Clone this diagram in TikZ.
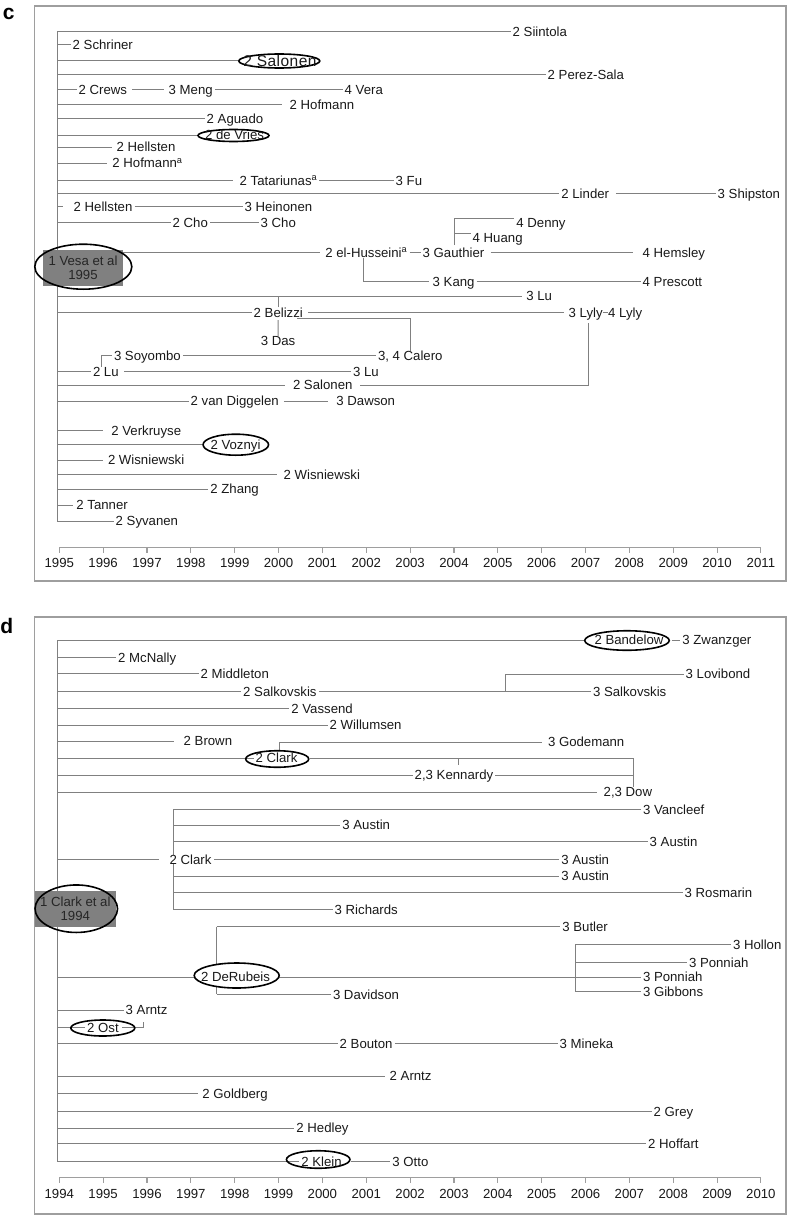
\documentclass[tikz,border=0pt]{standalone}
\usepackage{fontspec}
\setmainfont{Liberation Sans}
\usepackage{tikz}
\usetikzlibrary{shapes.geometric}
\pgfdeclarelayer{lines}
\pgfsetlayers{lines,main}
\definecolor{lnc}{gray}{0.5}
\definecolor{frm}{gray}{0.62}
\newcommand\lblfont{\fontsize{13.2}{14.5}\selectfont}
\tikzset{
  lbl/.style={anchor=west, inner xsep=2pt, inner ysep=0pt, text height=9.4pt, text depth=0pt, font=\lblfont, text=black!90},
  tl/.style={draw=lnc, line width=1pt},
  ring/.style={ellipse, draw=black, line width=1.6pt, inner sep=0pt},
  root/.style={fill=gray, inner sep=0pt, align=center, font=\lblfont, text=black!85},
  frame/.style={draw=frm, line width=1.3pt},
  axl/.style={draw=frm, line width=1.1pt},
  yr/.style={font=\lblfont, inner sep=0pt, text=black!90},
  panel/.style={font=\bfseries\fontsize{21}{21}\selectfont, inner sep=0pt}
}
\begin{document}
\begin{tikzpicture}[x=1pt,y=-1pt]
\useasboundingbox (0,0) rectangle (788,1215);

% ---------------- panel c
\node[panel] (clab) at (8.7,14.2) {c};
\draw[frame] (34.3,6) rectangle (786,581);
\coordinate (cs) at (57,31.5);
\coordinate (ce) at (57,521);

\node[lbl] (siintola) at (510.5,31.5) {2 Siintola};
\node[lbl] (schriner) at (70.5,44.7) {2 Schriner};
\node[ring, fill=white, minimum width=81pt, minimum height=14pt] (salonenR) at (279.3,61) {};
\node[lbl, anchor=center, text height=10.5pt, font=\fontsize{15.5}{16}\selectfont\addfontfeatures{LetterSpace=3}] (salonenA) at (280,61) {2 Salonen};
\node[lbl] (perez) at (545.5,74.5) {2 Perez-Sala};
\node[lbl] (crews) at (76.5,89.3) {2 Crews};
\node[lbl] (meng) at (166.5,89.3) {3 Meng};
\node[lbl] (vera) at (342.5,89.3) {4 Vera};
\node[lbl] (hofmannA) at (287.5,104.3) {2 Hofmann};
\node[lbl] (aguado) at (204.5,118.5) {2 Aguado};
\node[ring, fill=white, minimum width=71pt, minimum height=12pt] (devriesR) at (233.5,135.5) {};
\node[lbl, anchor=center] (devries) at (234.5,134.7) {2 de Vries};
\node[lbl] (hellstenA) at (114.5,147) {2 Hellsten};
\node[lbl] (hofmannB) at (110.2,163) {2 Hofmann\textsuperscript{a}};
\node[lbl] (tatar) at (237.5,180.3) {2 Tatariunas\textsuperscript{a}};
\node[lbl] (fu) at (393.5,180.3) {3 Fu};
\node[lbl] (linder) at (559.2,193.3) {2 Linder};
\node[lbl] (shipston) at (715.5,193.3) {3 Shipston};
\node[lbl] (hellstenB) at (71.5,206.7) {2 Hellsten};
\node[lbl] (heinonen) at (242.5,206.7) {3 Heinonen};
\node[lbl] (choA) at (170.5,222.3) {2 Cho};
\node[lbl] (choB) at (258.5,222.3) {3 Cho};
\node[lbl] (denny) at (514.2,222.7) {4 Denny};
\node[lbl] (huang) at (470.5,237.7) {4 Huang};
\node[lbl] (husseini) at (323.2,252.3) {2 el-Husseini\textsuperscript{a}};
\node[lbl] (gauthier) at (420.5,252.3) {3 Gauthier};
\node[lbl] (hemsley) at (640.5,252.3) {4 Hemsley};
\node[lbl] (kang) at (430.5,281.7) {3 Kang};
\node[lbl] (prescott) at (640.5,281.7) {4 Prescott};
\node[lbl] (luA) at (524.2,296) {3 Lu};
\node[lbl] (belizzi) at (251.5,312.3) {2 Belizzi};
\node[lbl] (lylyA) at (566.5,312.3) {3 Lyly};
\node[lbl] (lylyB) at (606,312.3) {4 Lyly};
\node[lbl, anchor=center] (das) at (278,341) {3 Das};
\node[lbl] (soyombo) at (111.8,355.7) {3 Soyombo};
\node[lbl] (calero) at (375.8,355.7) {3, 4 Calero};
\node[lbl] (luB) at (90.8,371.7) {2 Lu};
\node[lbl] (luC) at (350.8,371.7) {3 Lu};
\node[lbl] (salonenB) at (290.8,385) {2 Salonen};
\node[lbl] (diggelen) at (188.5,401) {2 van Diggelen};
\node[lbl] (dawson) at (334.2,401) {3 Dawson};
\node[lbl] (verkruyse) at (109.2,430.7) {2 Verkruyse};
\node[ring, fill=white, minimum width=65.5pt, minimum height=21pt] (voznyiR) at (235.8,444.7) {};
\node[lbl, anchor=center] (voznyi) at (235.5,445) {2 Voznyi};
\node[lbl] (wisnA) at (105.8,460) {2 Wisniewski};
\node[lbl] (wisnB) at (281.5,474.5) {2 Wisniewski};
\node[lbl] (zhang) at (208.2,489) {2 Zhang};
\node[lbl] (tanner) at (74.2,505) {2 Tanner};
\node[lbl] (syvanen) at (113.5,521) {2 Syvanen};
\node[root, minimum width=80pt, minimum height=35.7pt] (vesa) at (83,267.9) {1 Vesa et al\\1995};
\node[ring, minimum width=97pt, minimum height=45pt] (vesaR) at (83.3,266.7) {};

\coordinate (gj) at (454,245);
\coordinate (hj) at (454,233.3);
\coordinate (kj) at (363.3,258);

\begin{pgfonlayer}{lines}
\draw[tl] (cs) -- (ce);
\draw[tl] (cs) -- (siintola);
\draw[tl] (cs |- schriner) -- (schriner);
\draw[tl] (cs |- salonenR) -- (salonenR);
\draw[tl] (cs |- perez) -- (perez);
\draw[tl] (cs |- crews) -- (crews);
\draw[tl] ([xshift=3pt]crews.east) -- ([xshift=-3pt]meng.west);
\draw[tl] (meng) -- (vera);
\draw[tl] (cs |- hofmannA) -- ([xshift=-6pt]hofmannA.west);
\draw[tl] (cs |- aguado) -- (aguado);
\draw[tl] (cs |- devriesR) -- (devriesR);
\draw[tl] (cs |- hellstenA) -- ([xshift=-2.5pt]hellstenA.west);
\draw[tl] (cs |- hofmannB) -- ([xshift=-3pt]hofmannB.west);
\draw[tl] (cs |- tatar) -- ([xshift=-4.5pt]tatar.west);
\draw[tl] (tatar) -- (fu);
\draw[tl] (cs |- linder) -- (linder);
\draw[tl] ([xshift=4.5pt]linder.east) -- (shipston);
\draw[tl] (cs |- hellstenB) -- ([xshift=-8.5pt]hellstenB.west);
\draw[tl] (hellstenB) -- (heinonen);
\draw[tl] (cs |- choA) -- (choA);
\draw[tl] (choA) -- (choB);
\draw[tl] (cs |- husseini) -- ([xshift=-3pt]husseini.west);
\draw[tl] (husseini) -- (gauthier);
\draw[tl] ([xshift=4pt]gauthier.east) -- ([xshift=-7.5pt]hemsley.west);
\draw[tl] (gj) |- ([yshift=4.4pt]denny.west);
\draw[tl] (hj) -- ([yshift=4.4pt]huang.west);
\draw[tl] (kj) |- ([xshift=-2pt]kang.west);
\draw[tl] (kang) -- (prescott);
\draw[tl] (cs |- luA) -- ([xshift=-2.5pt]luA.west);
\draw[tl] (belizzi.north) -- (belizzi.north |- luA);
\draw[tl] (cs |- belizzi) -- (belizzi);
\draw[tl] ([xshift=3pt]belizzi.east) -- ([xshift=-3pt]lylyA.west);
\draw[tl] ([xshift=-1.5pt]lylyA.east) -- ([xshift=1.5pt]lylyB.west);
\draw[tl] ([xshift=-8pt,yshift=-1.3pt]belizzi.south east) -| (calero.north);
\draw[tl, shorten <=3pt] (belizzi.south) -- (das.north);
\draw[tl] (soyombo) -- (calero);
\draw[tl] ([xshift=-4pt]luB.north) |- (soyombo);
\draw[tl] (cs |- luB) -- (luB);
\draw[tl] ([xshift=3.5pt]luB.east) -- (luC);
\draw[tl] (cs |- salonenB) -- ([xshift=-5.8pt]salonenB.west);
\draw[tl] ([xshift=5.5pt]salonenB.east) -| ([xshift=2.5pt,yshift=-6pt]lylyA.south);
\draw[tl] (cs |- diggelen) -- (diggelen);
\draw[tl] ([xshift=3pt]diggelen.east) -- ([xshift=-6pt]dawson.west);
\draw[tl] (cs |- verkruyse) -- ([xshift=-6pt]verkruyse.west);
\draw[tl] (cs |- voznyiR) -- (voznyiR);
\draw[tl] (cs |- wisnA) -- ([xshift=-2.5pt]wisnA.west);
\draw[tl] (cs |- wisnB) -- ([xshift=-4.8pt]wisnB.west);
\draw[tl] (cs |- zhang) -- (zhang);
\draw[tl] (cs |- tanner) -- ([xshift=-1.5pt]tanner.west);
\draw[tl] (ce) -- (syvanen);
\end{pgfonlayer}

\draw[axl] (59.3,547.7) -- (761,547.7);
\foreach \yr [count=\i from 0] in {1995,...,2011}
  {
  \draw[axl] ({59.3+43.85*\i},547.7) -- ++(0,5);
  \node[yr] (c\yr) at ({59.3+43.85*\i},563.3) {\yr};
  }

% ---------------- panel d
\node[panel] (dlab) at (6.8,625.8) {d};
\draw[frame] (34.3,617) rectangle (786,1214);
\coordinate (ds) at (57.3,640.5);
\coordinate (de) at (57.3,1161.7);

\node[ring, fill=white, minimum width=84.5pt, minimum height=19.5pt] (bandelowR) at (627,640.5) {};
\node[lbl, anchor=center] (bandelow) at (629,640) {2 Bandelow};
\node[lbl] (zwanzger) at (680.2,640) {3 Zwanzger};
\node[lbl] (mcnally) at (116,657.7) {2 McNally};
\node[lbl] (middleton) at (198.5,673.8) {2 Middleton};
\node[lbl] (lovibond) at (683.5,674) {3 Lovibond};
\node[lbl] (salkA) at (241,691.5) {2 Salkovskis};
\node[lbl] (salkB) at (590.8,691.5) {3 Salkovskis};
\node[lbl] (vassend) at (289.2,708.5) {2 Vassend};
\node[lbl] (willumsen) at (327.5,725) {2 Willumsen};
\node[lbl] (brown) at (181.5,741) {2 Brown};
\node[lbl] (godemann) at (545.8,742) {3 Godemann};
\node[ring, minimum width=63pt, minimum height=16.5pt] (clarkR) at (277.2,759) {};
\node[lbl] (clarkA) at (253.5,758) {2 Clark};
\node[lbl] (kennardy) at (412.5,775) {2,3 Kennardy};
\node[lbl] (dow) at (601.5,792) {2,3 Dow};
\node[lbl] (vancleef) at (640.8,809.5) {3 Vancleef};
\node[lbl] (austinA) at (340.2,825) {3 Austin};
\node[lbl] (austinB) at (647.5,841.7) {3 Austin};
\node[lbl, fill=white] (clarkB) at (167.5,859.3) {2 Clark};
\node[lbl] (austinC) at (559.2,859.3) {3 Austin};
\node[lbl] (austinD) at (559.2,876) {3 Austin};
\node[lbl] (rosmarin) at (682.5,892.7) {3 Rosmarin};
\node[lbl] (richards) at (332.5,909.3) {3 Richards};
\node[root, minimum width=80.7pt, minimum height=35.7pt] (clarkroot) at (75.3,908.8) {1 Clark et al\\1994};
\node[ring, minimum width=82.5pt, minimum height=47.5pt] (clarkrootR) at (76.3,908.7) {};
\node[lbl] (butler) at (560.2,926.7) {3 Butler};
\node[lbl] (hollon) at (730.8,944.3) {3 Hollon};
\node[lbl] (ponniahA) at (686.8,962.7) {3 Ponniah};
\node[ring, fill=white, minimum width=85pt, minimum height=25pt] (derubeisR) at (236.7,975.5) {};
\node[lbl, anchor=center] (derubeis) at (235.5,976.5) {2 DeRubeis};
\node[lbl] (ponniahB) at (640.8,977) {3 Ponniah};
\node[lbl] (gibbons) at (640.8,991.7) {3 Gibbons};
\node[lbl] (davidson) at (330.8,994.3) {3 Davidson};
\node[lbl] (arntzA) at (123.5,1010) {3 Arntz};
\node[ring, minimum width=64pt, minimum height=16pt] (ostR) at (102.8,1028) {};
\node[lbl, anchor=center] (ost) at (103,1027.3) {2 Ost};
\node[lbl] (bouton) at (337.5,1043.3) {2 Bouton};
\node[lbl] (mineka) at (557.5,1043.3) {3 Mineka};
\node[lbl] (arntzB) at (387.5,1076) {2 Arntz};
\node[lbl] (goldberg) at (200.2,1093.5) {2 Goldberg};
\node[lbl] (grey) at (651.5,1111.7) {2 Grey};
\node[lbl] (hedley) at (294.2,1128) {2 Hedley};
\node[lbl] (hoffart) at (646,1143.3) {2 Hoffart};
\node[ring, minimum width=63.5pt, minimum height=17.5pt] (kleinR) at (318.2,1159.5) {};
\node[lbl] (klein) at (299.2,1161.7) {2 Klein};
\node[lbl] (otto) at (390.2,1161.7) {3 Otto};

\coordinate (lj) at (505.7,691.5);
\coordinate (cj) at (633.3,758);
\coordinate (kj2) at (458.3,758);
\coordinate (ct) at (173.3,809.5);
\coordinate (cb) at (173.3,909.3);
\coordinate (rt) at (216.7,926.7);
\coordinate (rb) at (216.7,994.3);
\coordinate (pt) at (575.7,944.3);
\coordinate (pb) at (575.7,991.7);

\begin{pgfonlayer}{lines}
\draw[tl] (ds) -- (de);
\draw[tl] (ds) -- (bandelowR);
\draw[tl] ([xshift=6pt]bandelow.east) -- (zwanzger);
\draw[tl] (ds |- mcnally) -- (mcnally);
\draw[tl] (ds |- middleton) -- (middleton);
\draw[tl] (ds |- salkA) -- (salkA);
\draw[tl] (salkA) -- (salkB);
\draw[tl] (lj) |- (lovibond);
\draw[tl] (ds |- vassend) -- (vassend);
\draw[tl] (ds |- willumsen) -- (willumsen);
\draw[tl] (ds |- brown) -- ([xshift=-8pt]brown.west);
\draw[tl] (ds |- clarkA) -- (clarkA);
\draw[tl] ([xshift=2pt]clarkR.north) |- ([xshift=-4pt]godemann.west);
\draw[tl] (clarkR.east |- cj) -- (cj);
\draw[tl] (cj) -- (cj |- dow.north);
\draw[tl] (kj2) -- ++(0,6.5);
\draw[tl] (ds |- kennardy) -- (kennardy);
\draw[tl] (kennardy) -- (kennardy -| cj);
\draw[tl] (ds |- dow) -- ([xshift=-5pt]dow.west);
\draw[tl] (ct) -- (cb);
\draw[tl] (ct) -- (vancleef);
\draw[tl] (ct |- austinA) -- (austinA);
\draw[tl] (ct |- austinB) -- (austinB);
\draw[tl] (ds |- clarkB) -- ([xshift=-9pt]clarkB.west);
\draw[tl] (clarkB) -- (austinC);
\draw[tl] (ct |- austinD) -- (austinD);
\draw[tl] (ct |- rosmarin) -- (rosmarin);
\draw[tl] (cb) -- (richards);
\draw[tl] (rt) -- (rb);
\draw[tl] (rt) -- (butler);
\draw[tl] (rb) -- (davidson);
\draw[tl] (ds |- ponniahB) -- (ponniahB);
\draw[tl] (pt) -- (pb);
\draw[tl] (pt) -- (hollon);
\draw[tl] (pt |- ponniahA) -- (ponniahA);
\draw[tl] (pb) -- (gibbons);
\draw[tl] (ds |- arntzA) -- (arntzA);
\draw[tl] (ds |- ost) -- (ost);
\draw[tl] ([xshift=1.5pt]ost.east) -| ([xshift=-2.8pt,yshift=-7pt]arntzA.south);
\draw[tl] (ds |- bouton) -- (bouton);
\draw[tl] (bouton) -- (mineka);
\draw[tl] (ds |- arntzB) -- ([xshift=-2.5pt]arntzB.west);
\draw[tl] (ds |- goldberg) -- ([xshift=-2pt]goldberg.west);
\draw[tl] (ds |- grey) -- (grey);
\draw[tl] (ds |- hedley) -- (hedley);
\draw[tl] (ds |- hoffart) -- (hoffart);
\draw[tl] (de) -- (klein);
\draw[tl] (kleinR.east |- otto) -- (otto);
\end{pgfonlayer}

\draw[axl] (59.3,1177.7) -- (761,1177.7);
\foreach \yr [count=\i from 0] in {1994,...,2010}
  {
  \draw[axl] ({59.3+43.85*\i},1177.7) -- ++(0,5);
  \node[yr] (d\yr) at ({59.3+43.85*\i},1194) {\yr};
  }
\end{tikzpicture}
\end{document}
